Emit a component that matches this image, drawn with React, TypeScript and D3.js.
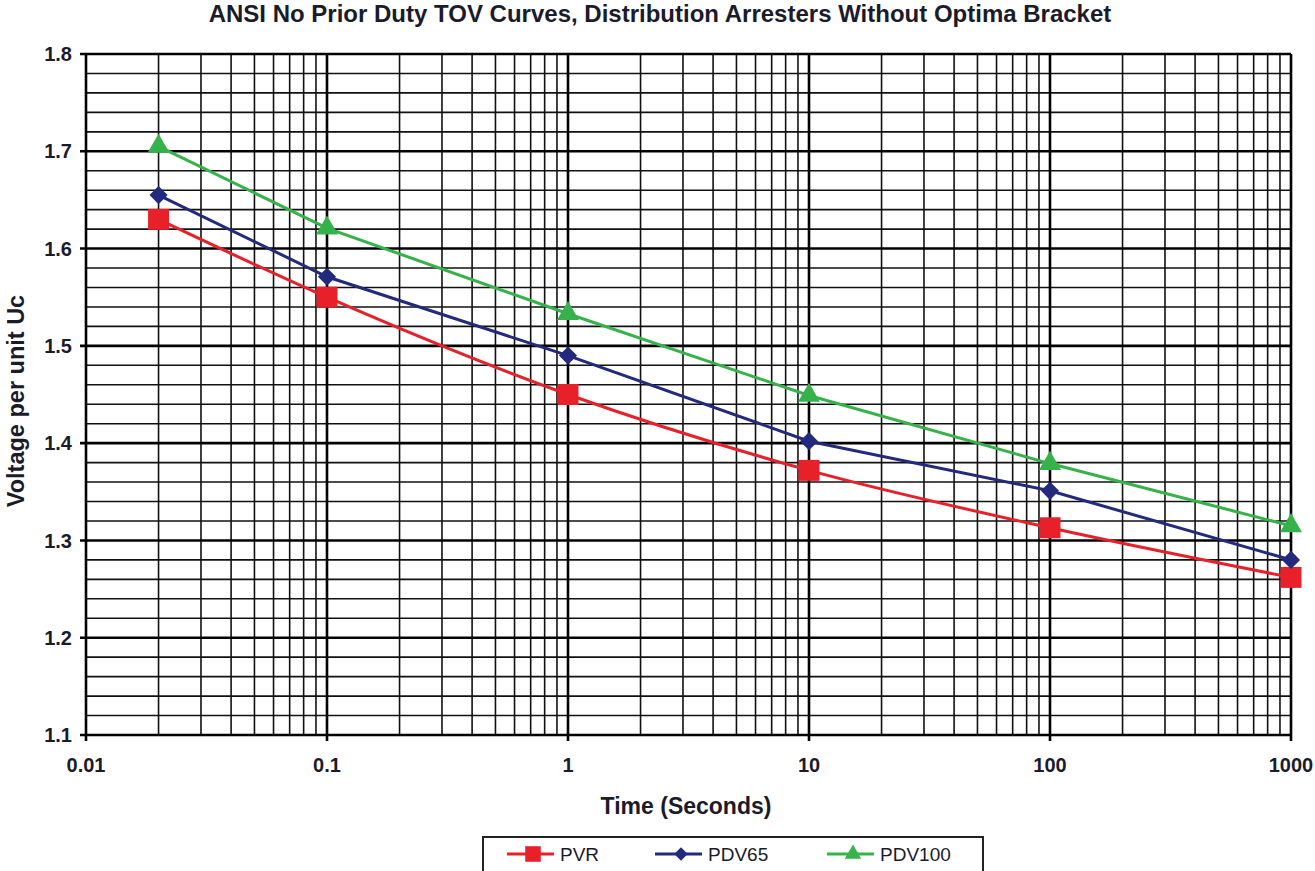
import React, { useEffect, useRef } from "react";
import * as d3 from "d3";

const times = [0.02, 0.1, 1, 10, 100, 1000];
const pvr = [1.63, 1.55, 1.45, 1.372, 1.313, 1.262];
const pdv65 = [1.655, 1.571, 1.49, 1.402, 1.351, 1.28];
const pdv100 = [1.705, 1.621, 1.533, 1.449, 1.379, 1.315];
const xTicks = [0.01, 0.1, 1, 10, 100, 1000];
const yTicks = [1.1, 1.2, 1.3, 1.4, 1.5, 1.6, 1.7, 1.8];

const series = [
  { name: "PVR", values: pvr, color: "#e8202a", symbol: d3.symbolSquare, size: 440, curve: d3.curveMonotoneX },
  { name: "PDV65", values: pdv65, color: "#232a7e", symbol: d3.symbolDiamond2, size: 210, curve: d3.curveLinear },
  { name: "PDV100", values: pdv100, color: "#35b34a", symbol: d3.symbolTriangle, size: 210, curve: d3.curveLinear },
];

export default function App() {
  const svgRef = useRef<SVGSVGElement>(null);

  useEffect(() => {
    if (!svgRef.current) return;
    const root = d3.select(svgRef.current);
    root.selectAll("*").remove();

    const W = 1315, H = 871;
    const margin = { top: 54, right: 24, bottom: 136, left: 86 };
    const width = W - margin.left - margin.right;
    const height = H - margin.top - margin.bottom;
    const font = "'Liberation Sans', Arial, sans-serif";
    const ink = "#1b1b2a";

    root.attr("width", W).attr("height", H).style("font-family", font);
    root.append("rect").attr("width", W).attr("height", H).attr("fill", "#fff");

    const svg = root.append("g").attr("transform", `translate(${margin.left},${margin.top})`);

    const x = d3.scaleLog().domain([0.01, 1000]).range([0, width]);
    const y = d3.scaleLinear().domain([1.1, 1.8]).range([height, 0]);

    // minor log grid (2..9 per decade)
    const minorX: number[] = [];
    xTicks.slice(0, -1).forEach(d => { for (let k = 2; k <= 9; k++) minorX.push(d * k); });
    svg.append("g").selectAll("line").data(minorX).join("line")
      .attr("x1", d => x(d)).attr("x2", d => x(d)).attr("y1", 0).attr("y2", height)
      .attr("stroke", "#111").attr("stroke-width", 1.6);

    // minor horizontal grid every 0.02
    const minorY = d3.range(0, 36).map(i => 1.1 + i * 0.02).filter((_, i) => i % 5 !== 0);
    svg.append("g").selectAll("line").data(minorY).join("line")
      .attr("x1", 0).attr("x2", width).attr("y1", d => y(d)).attr("y2", d => y(d))
      .attr("stroke", "#111").attr("stroke-width", 1.6);

    // major grid
    svg.append("g").selectAll("line").data(yTicks).join("line")
      .attr("x1", -6).attr("x2", width).attr("y1", d => y(d)).attr("y2", d => y(d))
      .attr("stroke", "#000").attr("stroke-width", 2.6);
    svg.append("g").selectAll("line").data(xTicks).join("line")
      .attr("x1", d => x(d)).attr("x2", d => x(d)).attr("y1", 0).attr("y2", height + 6)
      .attr("stroke", "#000").attr("stroke-width", 2.6);

    // tick labels
    svg.append("g").selectAll("text").data(yTicks).join("text")
      .attr("x", -14).attr("y", d => y(d)).attr("dy", "0.36em")
      .attr("text-anchor", "end").attr("fill", ink)
      .style("font-size", "20px").style("font-weight", "700")
      .text(d => d.toFixed(1));
    svg.append("g").selectAll("text").data(xTicks).join("text")
      .attr("x", d => x(d)).attr("y", height + 37)
      .attr("text-anchor", "middle").attr("fill", ink)
      .style("font-size", "20px").style("font-weight", "700")
      .text(d => String(d));

    // series
    series.forEach(s => {
      const pts = times.map((t, i) => [x(t), y(s.values[i])] as [number, number]);
      svg.append("path").datum(pts)
        .attr("fill", "none").attr("stroke", s.color).attr("stroke-width", 3)
        .attr("d", d3.line().curve(s.curve)(pts));
      svg.append("g").selectAll("path").data(pts).join("path")
        .attr("transform", d => `translate(${d[0]},${d[1]})`)
        .attr("d", d3.symbol(s.symbol, s.size)())
        .attr("fill", s.color);
    });

    // titles
    root.append("text").attr("x", 660).attr("y", 22).attr("text-anchor", "middle")
      .attr("fill", ink).style("font-size", "24px").style("font-weight", "700")
      .text("ANSI No Prior Duty TOV Curves, Distribution Arresters Without Optima Bracket");
    root.append("text").attr("x", 686).attr("y", 814).attr("text-anchor", "middle")
      .attr("fill", ink).style("font-size", "23px").style("font-weight", "700")
      .text("Time (Seconds)");
    root.append("text").attr("transform", "rotate(-90)")
      .attr("x", -401).attr("y", 24).attr("text-anchor", "middle")
      .attr("fill", ink).style("font-size", "23.5px").style("font-weight", "700")
      .text("Voltage per unit Uc");

    // legend
    const lg = root.append("g").attr("transform", "translate(483,837)");
    lg.append("rect").attr("width", 500).attr("height", 40)
      .attr("fill", "#fff").attr("stroke", "#222").attr("stroke-width", 2);
    const lx = [24, 172, 344];
    series.forEach((s, i) => {
      const g = lg.append("g").attr("transform", `translate(${lx[i]},17)`);
      g.append("line").attr("x1", 0).attr("x2", 47).attr("stroke", s.color).attr("stroke-width", 3);
      g.append("path").attr("transform", "translate(26,0)")
        .attr("d", d3.symbol(s.symbol, s.size * 0.55)()).attr("fill", s.color);
      g.append("text").attr("x", 53).attr("dy", "0.36em").attr("fill", ink)
        .style("font-size", "19px").text(s.name);
    });
  }, []);

  return <svg ref={svgRef} style={{ display: "block", position: "absolute", left: 0, top: 0 }} />;
}
